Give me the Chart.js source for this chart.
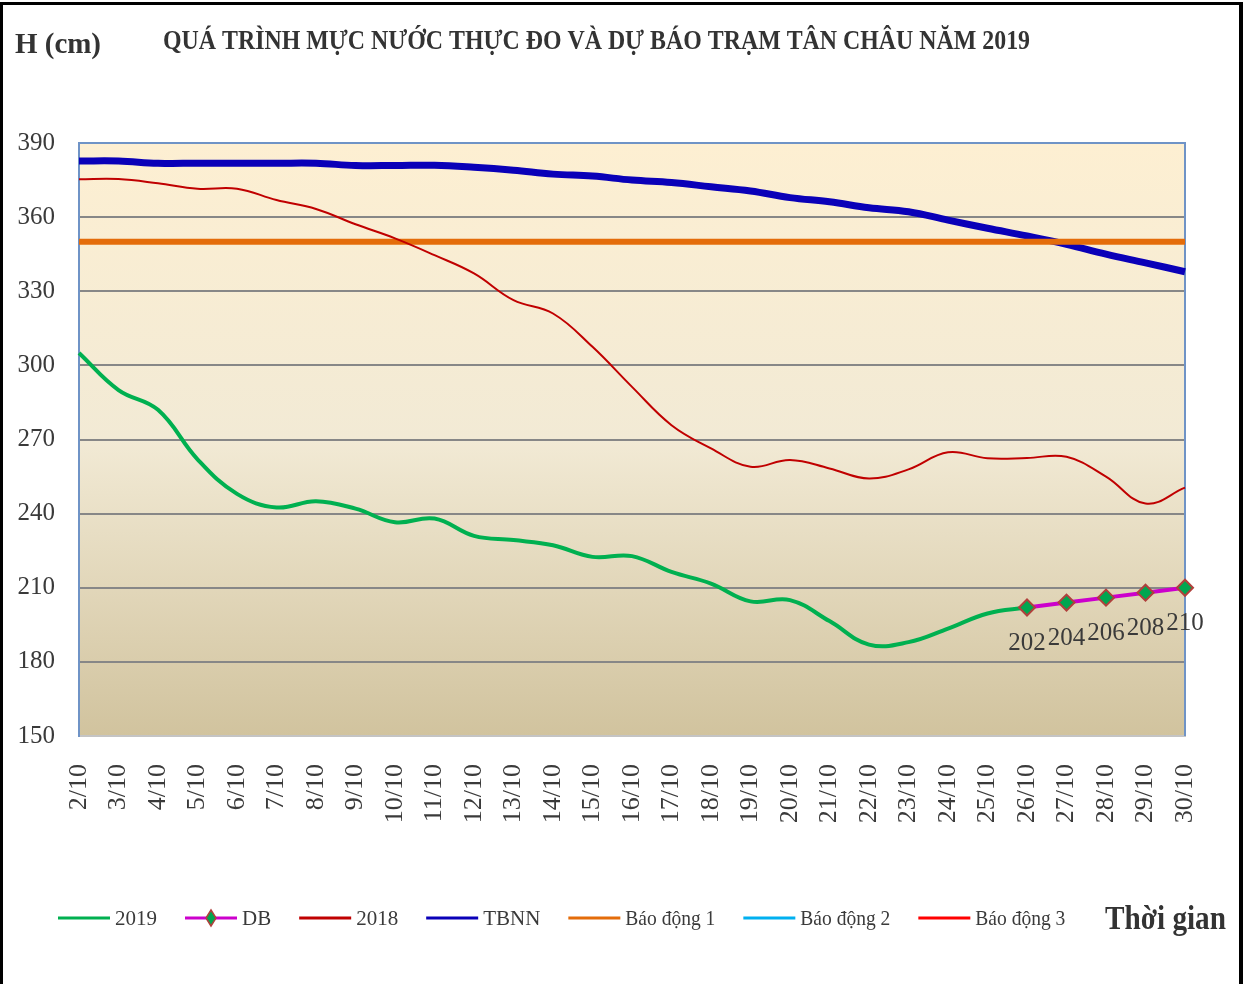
<!DOCTYPE html>
<html>
<head>
    <meta charset="UTF-8">
    <title>Tân Châu 2019</title>
    <style>
        html, body { margin: 0; padding: 0; background: #fff; }
        #wrap { width: 1248px; height: 984px; position: relative; }
    </style>
</head>
<body>
    <div id="wrap"><canvas id="chart"></canvas></div>
    <script src="https://cdn.jsdelivr.net/npm/chart.js"></script>
    <script>
        const days = ["2/10", "3/10", "4/10", "5/10", "6/10", "7/10", "8/10", "9/10", "10/10", "11/10",
            "12/10", "13/10", "14/10", "15/10", "16/10", "17/10", "18/10", "19/10", "20/10", "21/10",
            "22/10", "23/10", "24/10", "25/10", "26/10", "27/10", "28/10", "29/10", "30/10"];

        const h2019 = [305, 290, 282, 262, 248, 242.5, 245, 242, 236.5, 238, 231, 229.3, 227.2, 222.5, 222.8,
            216.4, 211.7, 204.5, 205, 196.5, 187, 188, 193.5, 199.6, 202, null, null, null, null];

        const forecast = [null, null, null, null, null, null, null, null, null, null, null, null, null, null, null,
            null, null, null, null, null, null, null, null, null, 202, 204, 206, 208, 210];

        const h2018 = [375.3, 375.4, 373.7, 371.5, 371.5, 366.9, 363.3, 357.1, 351.4, 344.6, 337.2, 326.4, 321,
            307.5, 291.3, 275.8, 266.4, 259, 261.7, 258.3, 254.2, 257.9, 264.8, 262.4, 262.5, 263, 255, 244.1, 250.5];

        const tbnn = [382.7, 382.7, 381.8, 381.8, 381.8, 381.8, 381.8, 380.9, 380.9, 381, 380.2, 379, 377.4, 376.6,
            375, 374, 372.3, 370.6, 367.9, 366.2, 363.8, 362.2, 358.8, 355.5, 352.4, 349, 345, 341.5, 337.9];

        // mức báo động tại Tân Châu
        const alarm1 = 350;
        const alarm2 = 400;
        const alarm3 = 450;

        const yTicks = [150, 180, 210, 240, 270, 300, 330, 360, 390];

        const serif = "'Liberation Serif', 'DejaVu Serif', serif";
        const textColor = "#3a3a3a";

        function flat(level) {
            return [{ x: days[0], y: level }, { x: days[days.length - 1], y: level }];
        }

        const decor = {
            id: "decor",
            beforeDraw(chart) {
                const { ctx, chartArea: a } = chart;
                const g = ctx.createLinearGradient(0, a.top, 0, a.bottom);
                g.addColorStop(0, "#fdefd2");
                g.addColorStop(0.5, "#f2ead5");
                g.addColorStop(1, "#d1c39e");
                ctx.save();
                ctx.fillStyle = g;
                ctx.fillRect(a.left, a.top, a.right - a.left, a.bottom - a.top);
                ctx.restore();
            },
            beforeDatasetsDraw(chart) {
                const { ctx, chartArea: a } = chart;
                ctx.save();
                ctx.strokeStyle = "#6f93c6";
                ctx.lineWidth = 2;
                ctx.beginPath();
                ctx.moveTo(a.left, a.top);
                ctx.lineTo(a.right, a.top);
                ctx.lineTo(a.right, a.bottom);
                ctx.stroke();
                ctx.restore();
            },
            afterDatasetsDraw(chart) {
                const { ctx } = chart;
                const meta = chart.getDatasetMeta(1);
                ctx.save();
                ctx.font = "25px " + serif;
                ctx.fillStyle = textColor;
                ctx.textAlign = "center";
                ctx.textBaseline = "middle";
                meta.data.forEach((pt, i) => {
                    const v = forecast[i];
                    if (v == null) return;
                    ctx.fillText(String(v), pt.x, pt.y + 36);
                });
                ctx.restore();
            },
            afterDraw(chart) {
                const { ctx, height } = chart;
                ctx.save();
                ctx.fillStyle = "#333";
                ctx.textBaseline = "alphabetic";
                ctx.font = "bold 29px " + serif;
                ctx.fillText("H (cm)", 15, 53, 86);
                ctx.font = "bold 28px " + serif;
                ctx.fillText("QUÁ TRÌNH MỰC NƯỚC THỰC ĐO VÀ DỰ BÁO TRẠM TÂN CHÂU NĂM 2019", 163, 49, 867);
                ctx.font = "bold 33px " + serif;
                ctx.fillText("Thời gian", 1105, 929, 121);

                // chú thích
                ctx.font = "21px " + serif;
                ctx.textBaseline = "middle";
                let x = 58;
                const y = 918;
                chart.data.datasets.forEach((ds) => {
                    ctx.strokeStyle = ds.borderColor;
                    ctx.lineWidth = 3;
                    ctx.beginPath();
                    ctx.moveTo(x, y);
                    ctx.lineTo(x + 52, y);
                    ctx.stroke();
                    if (ds.pointRadius > 0) {
                        ctx.fillStyle = ds.pointBackgroundColor;
                        ctx.strokeStyle = ds.pointBorderColor;
                        ctx.lineWidth = 1.5;
                        ctx.beginPath();
                        ctx.moveTo(x + 26, y - 8);
                        ctx.lineTo(x + 31, y);
                        ctx.lineTo(x + 26, y + 8);
                        ctx.lineTo(x + 21, y);
                        ctx.closePath();
                        ctx.fill();
                        ctx.stroke();
                    }
                    ctx.fillStyle = textColor;
                    const w = Math.min(ctx.measureText(ds.label).width, ds.label.length > 5 ? 90 : 100);
                    ctx.fillText(ds.label, x + 57, y + 1, w);
                    x += 57 + w + 28;
                });

                // khung ngoài
                ctx.fillStyle = "#000";
                ctx.fillRect(0, 2, 3, height - 2);
                ctx.fillRect(0, 2, 1243, 3);
                ctx.fillRect(1239, 2, 4, height - 2);
                ctx.restore();
            }
        };

        new Chart(document.getElementById("chart"), {
            type: "line",
            data: {
                labels: days,
                datasets: [
                    {
                        label: "2019",
                        data: h2019,
                        borderColor: "#00b050",
                        borderWidth: 4,
                        pointRadius: 0,
                        tension: 0.4,
                        order: 1
                    },
                    {
                        label: "DB",
                        data: forecast,
                        borderColor: "#cc00cc",
                        borderWidth: 4,
                        pointStyle: "rectRot",
                        pointRadius: 8,
                        pointBackgroundColor: "#00a650",
                        pointBorderColor: "#b0403c",
                        pointBorderWidth: 2,
                        tension: 0,
                        clip: false,
                        order: 0
                    },
                    {
                        label: "2018",
                        data: h2018,
                        borderColor: "#c00000",
                        borderWidth: 2,
                        pointRadius: 0,
                        tension: 0.4,
                        order: 2
                    },
                    {
                        label: "TBNN",
                        data: tbnn,
                        borderColor: "#0a00b8",
                        borderWidth: 7,
                        pointRadius: 0,
                        tension: 0.4,
                        order: 4
                    },
                    {
                        label: "Báo động 1",
                        data: flat(alarm1),
                        borderColor: "#e46c0a",
                        borderWidth: 6,
                        pointRadius: 0,
                        order: 3
                    },
                    {
                        label: "Báo động 2",
                        data: flat(alarm2),
                        borderColor: "#00b0f0",
                        borderWidth: 3,
                        pointRadius: 0,
                        order: 5
                    },
                    {
                        label: "Báo động 3",
                        data: flat(alarm3),
                        borderColor: "#ff0000",
                        borderWidth: 3,
                        pointRadius: 0,
                        order: 5
                    }
                ]
            },
            options: {
                responsive: true,
                maintainAspectRatio: false,
                animation: false,
                layout: { padding: { top: 143, right: 63, left: 0, bottom: 0 } },
                plugins: {
                    legend: { display: false },
                    title: { display: false },
                    tooltip: { enabled: false }
                },
                scales: {
                    x: {
                        afterFit(scale) { scale.height = 248; },
                        grid: { display: false, drawTicks: false },
                        border: { color: "#c4c4c4", width: 2 },
                        ticks: {
                            autoSkip: false,
                            minRotation: 90,
                            maxRotation: 90,
                            padding: 28,
                            color: textColor,
                            font: { family: serif, size: 26 }
                        }
                    },
                    y: {
                        min: 150,
                        max: 390,
                        afterFit(scale) { scale.width = 79; },
                        afterBuildTicks(scale) { scale.ticks = yTicks.map((v) => ({ value: v })); },
                        grid: { color: "#878787", lineWidth: 2, drawTicks: false },
                        border: { color: "#6f93c6", width: 2 },
                        ticks: {
                            padding: 24,
                            color: textColor,
                            font: { family: serif, size: 25 }
                        }
                    }
                }
            },
            plugins: [decor]
        });
    </script>
</body>
</html>
